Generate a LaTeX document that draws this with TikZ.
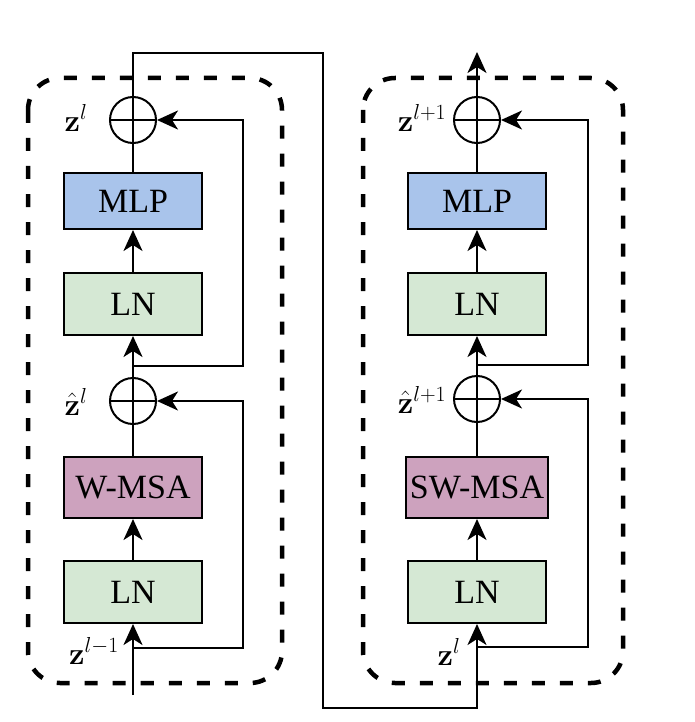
\RequirePackage{fix-cm}
\documentclass[tikz,border=0pt]{standalone}
\usepackage[no-math]{fontspec}
\setmainfont{Liberation Serif}
\usetikzlibrary{arrows.meta}
\begin{document}
\begin{tikzpicture}[x=1pt,y=-1pt,
  line width=2pt,
  arr/.style={-{Stealth[length=21pt,width=19pt,inset=6pt]}},
  blk/.style={draw,line width=2pt,minimum height=60pt,minimum width=138pt,inner sep=0pt,font=\fontsize{34}{40}\selectfont},
  mlpbox/.style={blk,fill=mlpc,minimum height=56pt},
  lnbox/.style={blk,fill=lnc,minimum height=62pt},
  msabox/.style={blk,fill=msac,minimum height=61pt},
  addc/.style={draw,circle,minimum size=46pt,inner sep=0pt,line width=2pt,
    path picture={\draw[line width=2pt] (path picture bounding box.north) -- (path picture bounding box.south)
      (path picture bounding box.west) -- (path picture bounding box.east);}},
  lbl/.style={inner sep=0pt,font=\fontsize{31}{37}\selectfont},
  grp/.style={draw,line width=4.5pt,dash pattern=on 13pt off 15pt,rounded corners=32pt}
]
\definecolor{mlpc}{HTML}{A9C4EB}
\definecolor{lnc}{HTML}{D5E8D4}
\definecolor{msac}{HTML}{CDA2BE}
\useasboundingbox (0,0) rectangle (694,722);

% group boxes
\draw[grp] (28,78) rectangle (282,683);
\draw[grp] (363,78) rectangle (623,683);

% left column
\node[mlpbox] (mlp1) at (133,201) {MLP};
\node[lnbox] (ln1b) at (133,304) {LN};
\node[msabox] (wmsa) at (133,487.5) {W-MSA};
\node[lnbox] (ln1a) at (133,592) {LN};
\node[addc] (add1) at (133,120) {};
\node[addc] (add0) at (133,401) {};

% right column
\node[mlpbox] (mlp2) at (477,201) {MLP};
\node[lnbox] (ln2b) at (477,304) {LN};
\node[msabox,minimum width=142pt] (swmsa) at (477,487.5) {SW-MSA};
\node[lnbox] (ln2a) at (477,592) {LN};
\node[addc] (add3) at (477,120) {};
\node[addc] (add2) at (477,399) {};

% coordinates
\coordinate (in1) at (133,695);
\coordinate (r0s) at (133,648);
\coordinate (r0c) at (243,648);
\coordinate (r0t) at (243,401);
\coordinate (r1s) at (133,366);
\coordinate (r1c) at (243,366);
\coordinate (r1t) at (243,120);
\coordinate (t1) at (133,53);
\coordinate (t2) at (323,53);
\coordinate (t3) at (323,708);
\coordinate (t4) at (477,708);
\coordinate (r2s) at (477,647);
\coordinate (r2c) at (588,647);
\coordinate (r2t) at (588,399);
\coordinate (r3s) at (477,365);
\coordinate (r3c) at (588,365);
\coordinate (r3t) at (588,120);
\coordinate (out) at (477,52);

% left connectors
\draw[arr] (in1) -- (ln1a.south);
\draw[arr] (ln1a.north) -- (wmsa.south);
\draw (wmsa.north) -- (add0.south);
\draw[arr] (r0s) -- (r0c) -- (r0t) -- (add0.east);
\draw[arr] (add0.north) -- (ln1b.south);
\draw[arr] (ln1b.north) -- (mlp1.south);
\draw (mlp1.north) -- (add1.south);
\draw[arr] (r1s) -- (r1c) -- (r1t) -- (add1.east);
\draw[arr] (add1.north) -- (t1) -- (t2) -- (t3) -- (t4) -- (ln2a.south);

% right connectors
\draw[arr] (ln2a.north) -- (swmsa.south);
\draw (swmsa.north) -- (add2.south);
\draw[arr] (r2s) -- (r2c) -- (r2t) -- (add2.east);
\draw[arr] (add2.north) -- (ln2b.south);
\draw[arr] (ln2b.north) -- (mlp2.south);
\draw (mlp2.north) -- (add3.south);
\draw[arr] (r3s) -- (r3c) -- (r3t) -- (add3.east);
\draw[arr] (add3.north) -- (out);

% labels
\node[lbl] (lz1) at (76,118) {$\mathbf{z}^{l}$};
\node[lbl] (lzh1) at (76,402) {$\hat{\mathbf{z}}^{l}$};
\node[lbl] (lz0) at (94,651) {$\mathbf{z}^{l-1}$};
\node[lbl] (lz3) at (422,118) {$\mathbf{z}^{l+1}$};
\node[lbl] (lzh3) at (422,400) {$\hat{\mathbf{z}}^{l+1}$};
\node[lbl] (lz2) at (449,652) {$\mathbf{z}^{l}$};
\end{tikzpicture}
\end{document}
